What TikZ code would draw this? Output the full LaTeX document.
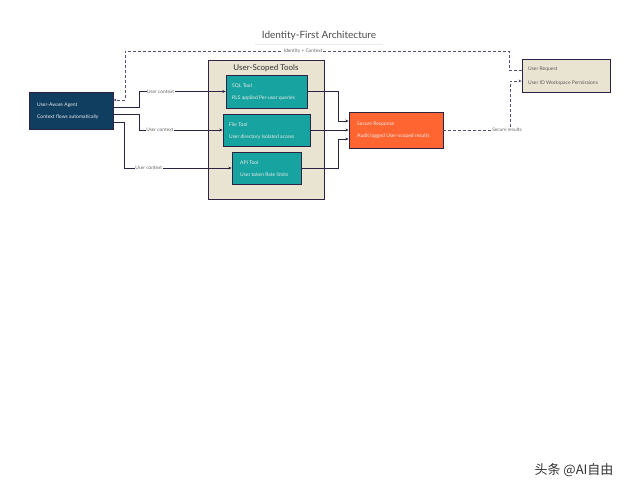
\documentclass[tikz,border=0pt]{standalone}
\usepackage{fontspec}
\setmainfont{Lato}
\newfontfamily\cjkfont{Noto Sans CJK SC}
\usetikzlibrary{calc,arrows.meta}
\definecolor{navy}{HTML}{0F3E61}
\definecolor{tealc}{HTML}{17A39F}
\definecolor{beige}{HTML}{E9E3D2}
\definecolor{orangec}{HTML}{FF6530}
\definecolor{edgec}{HTML}{2E2245}
\definecolor{dashc}{HTML}{5B4C7A}
\definecolor{lblc}{HTML}{666666}
\tikzset{
  boxbase/.style={draw=edgec, line width=0.9pt, inner sep=0pt},
  navybox/.style={boxbase, fill=navy},
  tealbox/.style={boxbase, fill=tealc},
  beigebox/.style={boxbase, fill=beige},
  orangebox/.style={boxbase, fill=orangec},
  txt/.style={anchor=west, inner sep=0pt, font=\fontsize{5}{6}\selectfont},
  whitetxt/.style={txt, text=white!92!black},
  darktxt/.style={txt, text=black!65},
  conn/.style={draw=edgec, line width=0.7pt, -{Stealth[length=3.2pt,width=3pt]}},
  dconn/.style={draw=dashc, line width=0.7pt, dash pattern=on 3pt off 2pt, -{Stealth[length=3.2pt,width=3pt]}},
  lbl/.style={fill=white, inner sep=0.6pt, text=lblc, font=\fontsize{4.8}{5.5}\selectfont},
}
\begin{document}
\begin{tikzpicture}[x=1pt,y=-1pt]
\useasboundingbox (0,0) rectangle (640,492);
\fill[white] (0,0) rectangle (640,492);

% title
\node (title) at (319,36) {\fontsize{10}{12}\selectfont\color{black!70}Identity-First Architecture};
\draw[color=black!8, line width=1.2pt] (255,44.5) -- (383,44.5);

% agent
\node[navybox, minimum width=84pt, minimum height=37pt] (agent) at (71,110.5) {};
\node[whitetxt] (agentA) at (37,105) {User-Aware Agent};
\node[whitetxt] (agentB) at (37,117) {Context flows automatically};

% container
\node[beigebox, minimum width=116pt, minimum height=139pt] (tools) at (266,129.5) {};
\node (toolsT) at (266,68) {\fontsize{8}{10}\selectfont\color{black!80}User-Scoped Tools};

% tools
\node[tealbox, minimum width=81pt, minimum height=33pt] (sql) at (266.5,91.5) {};
\node[whitetxt] (sqlA) at (232,86) {SQL Tool};
\node[whitetxt] (sqlB) at (232,98) {RLS applied Per-user queries};

\node[tealbox, minimum width=87pt, minimum height=32pt] (file) at (266.5,130) {};
\node[whitetxt] (fileA) at (229,125) {File Tool};
\node[whitetxt] (fileB) at (229,137) {User directory Isolated access};

\node[tealbox, minimum width=69pt, minimum height=32pt] (api) at (266.5,168) {};
\node[whitetxt] (apiA) at (240,163) {API Tool};
\node[whitetxt] (apiB) at (240,174.5) {User token Rate limits};

% response
\node[orangebox, minimum width=94pt, minimum height=36pt] (resp) at (396,130) {};
\node[whitetxt] (respA) at (357,124) {Secure Response};
\node[whitetxt] (respB) at (357,136) {Audit logged User-scoped results};

% user request
\node[beigebox, minimum width=88pt, minimum height=33pt] (ureq) at (566,75.5) {};
\node[darktxt] (ureqA) at (528,69) {User Request};
\node[darktxt] (ureqB) at (528,83) {User ID Workspace Permissions};

% agent -> tools
\draw[conn] ($(agent.east)+(0,-3.5)$) -- (139,107) -- (139,91.5) -- node[lbl, pos=0.25] (l1) {User context} (sql.west);
\draw[conn] ($(agent.east)+(0,3.5)$) -- (139,114) -- (139,130) -- node[lbl, pos=0.25] (l2) {User context} (file.west);
\draw[conn] ($(agent.east)+(0,11.5)$) -- (124,122) -- (124,168) -- node[lbl, pos=0.23] (l3) {User context} (api.west);

% tools -> response
\draw[conn] (sql.east) -- (338,91.5) -- (338,121) -- ($(resp.west)+(0,-9)$);
\draw[conn] (file.east) -- (resp.west);
\draw[conn] (api.east) -- (338,168) -- (338,139) -- ($(resp.west)+(0,9)$);

% dashed
\draw[dconn] ($(ureq.west)+(0,-5.5)$) -- (509,70) -- (509,51) -- node[lbl, pos=0.536] (l4) {Identity + Context} (125,51) -- (125,100) -- ($(agent.east)+(0,-10.5)$);
\draw[dconn] (resp.east) -- (510,130) -- (510,81) -- ($(ureq.west)+(0,5.5)$);
\node[lbl] (l5) at (507,130) {Secure results};

% watermark
\node[inner sep=0pt, text=black!80] (wm) at (574,470) {\cjkfont\fontsize{13}{15}\selectfont 头条 @AI自由};
\end{tikzpicture}
\end{document}
